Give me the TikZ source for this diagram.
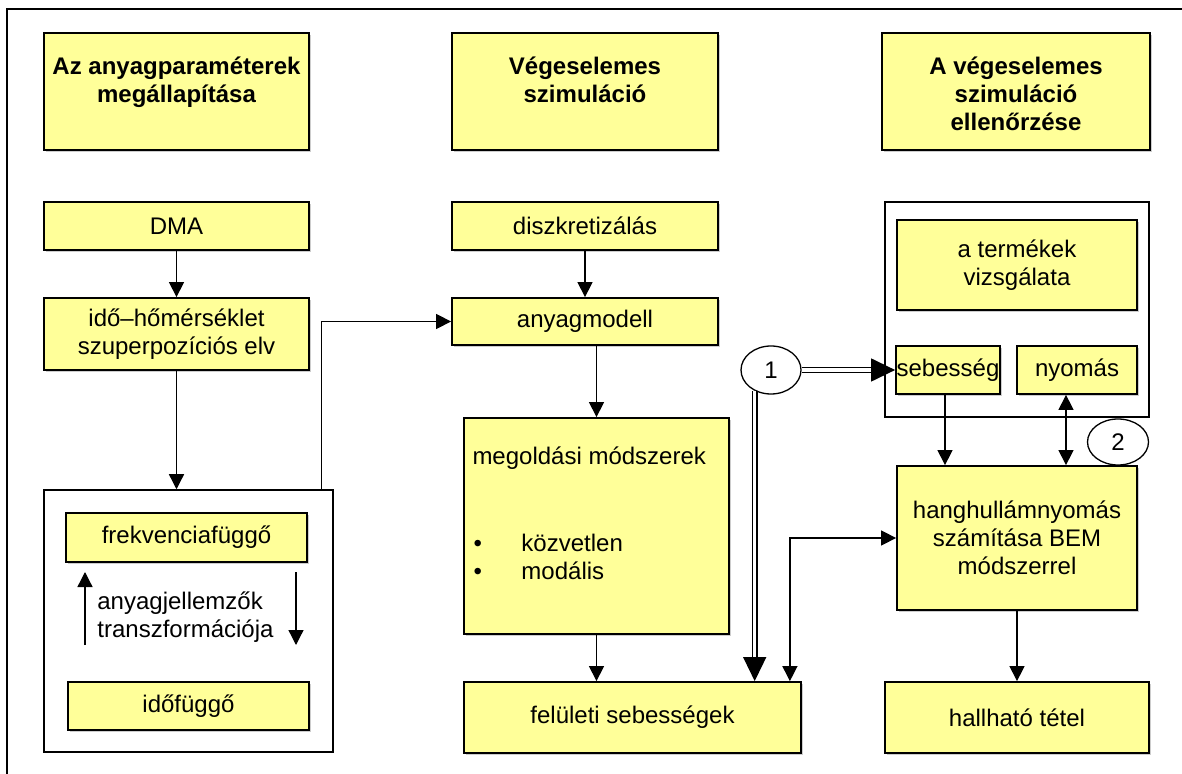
\documentclass[tikz,border=0pt]{standalone}
\usepackage{fontspec}
\setmainfont{Liberation Sans}
\usepackage{tikz}
\usetikzlibrary{arrows.meta,calc,positioning,shapes.geometric,shadows}
\definecolor{boxY}{RGB}{255,255,153}
\definecolor{shadeY}{RGB}{205,205,205}

\begin{document}
\begin{tikzpicture}[x=0.5pt,y=-0.5pt,
  font=\fontsize{12}{14}\selectfont,
  ybox/.style={draw,line width=0.9pt,fill=boxY,inner sep=0pt,align=center,
    drop shadow={shadow xshift=1pt,shadow yshift=-1pt,fill=shadeY,opacity=1}},
  wbox/.style={draw,line width=0.75pt,fill=white,inner sep=0pt},
  hdr/.style={ybox,minimum height=58.5pt},
  hdrlbl/.style={anchor=north,yshift=-12pt,inner sep=0pt,align=center,
    font=\fontsize{12}{14}\selectfont\bfseries},
  num/.style={draw,ellipse,line width=0.65pt,fill=white,inner sep=0pt},
  arr/.style={line width=0.65pt,-{Triangle[length=7.5pt,width=7.5pt]}},
  arrtwo/.style={line width=0.65pt,{Triangle[length=7.5pt,width=7.5pt]}-{Triangle[length=7.5pt,width=7.5pt]}},
  dbl/.style={double,double distance=1.6pt,line width=0.65pt,-{Triangle[length=12pt,width=11.5pt]}}]

\useasboundingbox (0,0) rectangle (1182,774);
\clip (0,0) rectangle (1182,774);
\draw[line width=0.75pt] (7,9) rectangle (1200,800);

%─── Column 1: material parameters ──────────────────────────────────────────
\node[hdr,minimum width=132.5pt,
  label={[hdrlbl]north:{Az anyagparaméterek\\megállapítása}}] (h1) at (176.5,91.5) {};
\node[ybox,minimum width=132.5pt,minimum height=24pt] (dma) at (176.5,226) {DMA};
\node[ybox,minimum width=132.5pt,minimum height=36pt] (ido) at (176.5,334)
  {idő–hőmérséklet\\szuperpozíciós elv};
\node[wbox,minimum width=144.5pt,minimum height=131pt] (lo) at (188.5,621) {};
\node[ybox,minimum width=120.5pt,minimum height=24.5pt] (fr) at (186.5,537.5) {frekvenciafüggő};
\node[ybox,minimum width=120.5pt,minimum height=24pt] (if) at (188.5,706) {időfüggő};
\node[anchor=west,align=left,inner sep=0pt] (tr) at (97,617) {anyagjellemzők\\transzformációja};
\coordinate (upA) at (85,645);
\coordinate (upB) at (85,572);
\coordinate (dnA) at (296,572);
\coordinate (dnB) at (296,645);

%─── Column 2: finite element simulation ────────────────────────────────────
\node[hdr,minimum width=133pt,
  label={[hdrlbl]north:{Végeselemes\\szimuláció}}] (h2) at (585,91.5) {};
\node[ybox,minimum width=133pt,minimum height=24pt] (dis) at (585,226) {diszkretizálás};
\node[ybox,minimum width=133pt,minimum height=23.5pt] (am) at (585,321.5) {anyagmodell};
\node[ybox,minimum width=132.5pt,minimum height=108pt] (mo) at (596.5,526) {};
\node[anchor=north west,inner sep=0pt] (mot) at ($(mo.north west)+(9,29)$) {megoldási módszerek};
\node[anchor=north west,inner sep=0pt,align=left] (mol) at ($(mo.north west)+(10,117)$)
  {\makebox[24pt][l]{•}közvetlen\\\makebox[24pt][l]{•}modális};
\node[ybox,minimum width=168.5pt,minimum height=35.5pt] (fel) at (632.5,717.5) {felületi sebességek};

%─── Column 3: checking the simulation ──────────────────────────────────────
\node[hdr,minimum width=134pt,
  label={[hdrlbl]north:{A végeselemes\\szimuláció\\ellenőrzése}}] (h3) at (1016,91.5) {};
\node[wbox,minimum width=132pt,minimum height=107.5pt] (ro) at (1017,309.5) {};
\node[ybox,minimum width=120pt,minimum height=45pt] (tv) at (1017,265) {a termékek\\vizsgálata};
\node[ybox,minimum width=52pt,minimum height=24pt] (seb) at (948,370) {sebesség};
\node[ybox,minimum width=60pt,minimum height=24pt] (nyo) at (1077,370) {nyomás};
\node[ybox,minimum width=120pt,minimum height=72pt] (hh) at (1017,538)
  {hanghullámnyomás\\számítása BEM\\módszerrel};
\node[ybox,minimum width=132pt,minimum height=35.5pt] (hal) at (1017,717.5) {hallható tétel};
\node[num,minimum width=30pt,minimum height=24pt] (n1) at (771,370) {1};
\node[num,minimum width=30.5pt,minimum height=23pt] (n2) at (1118,442) {2};

%─── Connectors ─────────────────────────────────────────────────────────────
\draw[arr] (dma) -- (ido);
\draw[arr] (ido) -- (ido |- lo.north);
\draw[arr] ([xshift=-6pt]lo.north east) |- (am.west);
\draw[arr] (upA) -- (upB);
\draw[arr] (dnA) -- (dnB);
\draw[arr] (dis) -- (am);
\draw[arr] (mo.north |- am.south) -- (mo.north);
\draw[arr] (mo) -- (mo.south |- fel.north);
\draw[dbl] (n1) -- (seb);
\draw[dbl] (n1.232) -- (n1.232 |- fel.north);
\draw[arrtwo] ([xshift=-6pt]fel.north east) |- (hh.west);
\draw[arr] ([xshift=-1.5pt]seb.south) -- ([xshift=-1.5pt]seb.south |- hh.north);
\draw[arrtwo] ([xshift=-5.5pt]nyo.south) -- ([xshift=-5.5pt]nyo.south |- hh.north);
\draw[arr] (hh) -- (hal);

\end{tikzpicture}
\end{document}
